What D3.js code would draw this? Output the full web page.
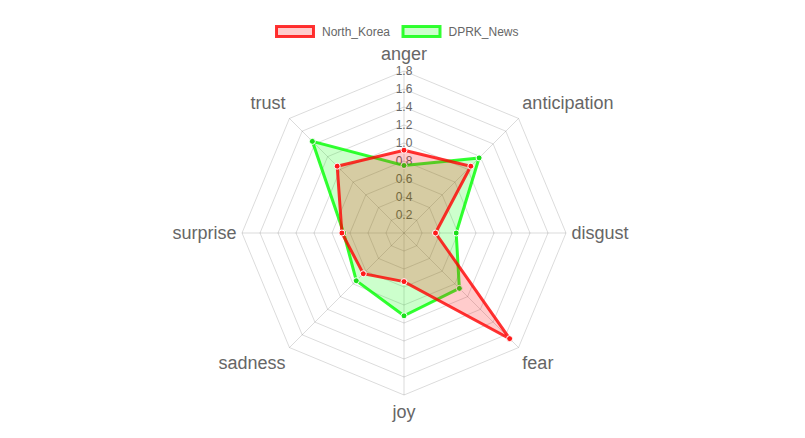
<!DOCTYPE html>
<html>
<head>
<meta charset="utf-8">
<script src="https://cdn.jsdelivr.net/npm/d3@7"></script>
<style>
  body { margin: 0; background: #fff; }
  svg { display: block; font-family: "Liberation Sans", Arial, sans-serif; }
</style>
</head>
<body>
<svg id="chart" width="805" height="438"></svg>
<script>
const emotions = ['anger', 'anticipation', 'disgust', 'fear', 'joy', 'sadness', 'surprise', 'trust']
const northKorea = [0.92, 1.05, 0.35, 1.66, 0.54, 0.64, 0.69, 1.05]
const dprkNews = [0.75, 1.18, 0.58, 0.87, 0.92, 0.75, 0.67, 1.44]
const tickValues = [0.2, 0.4, 0.6, 0.8, 1.0, 1.2, 1.4, 1.6, 1.8]

const series = [
  { name: 'North_Korea', values: northKorea, stroke: 'rgba(255,0,0,0.8)', fill: 'rgba(255,0,0,0.2)', dot: '#ff1a1a' },
  { name: 'DPRK_News', values: dprkNews, stroke: 'rgba(0,255,0,0.8)', fill: 'rgba(0,255,0,0.2)', dot: '#1adf1a' },
]

const cx = 404, cy = 233
const r = d3.scaleLinear().domain([0, 1.8]).range([0, 162])
const angle = i => (i / emotions.length) * 2 * Math.PI
const pos = (i, v) => [cx + r(v) * Math.sin(angle(i)), cy - r(v) * Math.cos(angle(i))]

const svg = d3.select('#chart')

// grid rings
const grid = svg.append('g')
grid.selectAll('polygon').data(tickValues).join('polygon')
  .attr('points', t => emotions.map((e, i) => pos(i, t).join(',')).join(' '))
  .attr('fill', 'none')
  .attr('stroke', 'rgba(0,0,0,0.14)')
  .attr('stroke-width', 1)

// spokes
grid.selectAll('line').data(emotions).join('line')
  .attr('x1', cx).attr('y1', cy)
  .attr('x2', (e, i) => pos(i, 1.8)[0])
  .attr('y2', (e, i) => pos(i, 1.8)[1])
  .attr('stroke', 'rgba(0,0,0,0.14)')

// tick labels
svg.append('g').selectAll('text').data(tickValues).join('text')
  .attr('x', cx)
  .attr('y', t => cy - r(t))
  .attr('dy', '0.35em')
  .attr('text-anchor', 'middle')
  .attr('font-size', 12)
  .attr('fill', '#666')
  .text(t => t.toFixed(1))

// point labels
svg.append('g').selectAll('text').data(emotions).join('text')
  .each(function(e, i) {
    const a = angle(i) * 180 / Math.PI
    const [x, y] = pos(i, 1.8 + 0.06)
    const anchor = (a === 0 || a === 180) ? 'middle' : a < 180 ? 'start' : 'end'
    let dy
    if (a === 90 || a === 270) dy = '0.35em'
    else if (a > 270 || a < 90) dy = '-0.3em'
    else dy = '0.98em'
    d3.select(this)
      .attr('x', x).attr('y', y).attr('dy', dy)
      .attr('text-anchor', anchor)
  })
  .attr('font-size', 18)
  .attr('fill', '#666')
  .text(d => d)

// datasets: first one on top
const data = svg.append('g')
const line = d3.lineRadial().angle((v, i) => angle(i)).radius(v => r(v)).curve(d3.curveLinearClosed)
series.slice().reverse().forEach(s => {
  const g = data.append('g').attr('transform', `translate(${cx},${cy})`)
  g.append('path')
    .attr('d', line(s.values))
    .attr('fill', s.fill)
    .attr('stroke', s.stroke)
    .attr('stroke-width', 3)
    .attr('stroke-linejoin', 'miter')
  g.selectAll('circle').data(s.values).join('circle')
    .attr('cx', (v, i) => pos(i, v)[0] - cx)
    .attr('cy', (v, i) => pos(i, v)[1] - cy)
    .attr('r', 3)
    .attr('fill', s.dot)
    .attr('stroke', '#fff')
    .attr('stroke-width', 1)
})

// legend
const legendX = [275, 401.5]
const legend = svg.append('g').selectAll('g').data(series).join('g')
  .attr('transform', (d, i) => `translate(${legendX[i]},25)`)
legend.append('rect')
  .attr('x', 1.5).attr('y', 1.5).attr('width', 37).attr('height', 10)
  .attr('fill', d => d.fill)
  .attr('stroke', d => d.stroke)
  .attr('stroke-width', 3)
legend.append('text')
  .attr('x', 47).attr('y', 6.5).attr('dy', '0.35em')
  .attr('font-size', 12)
  .attr('fill', '#666')
  .text(d => d.name)
</script>
</body>
</html>
